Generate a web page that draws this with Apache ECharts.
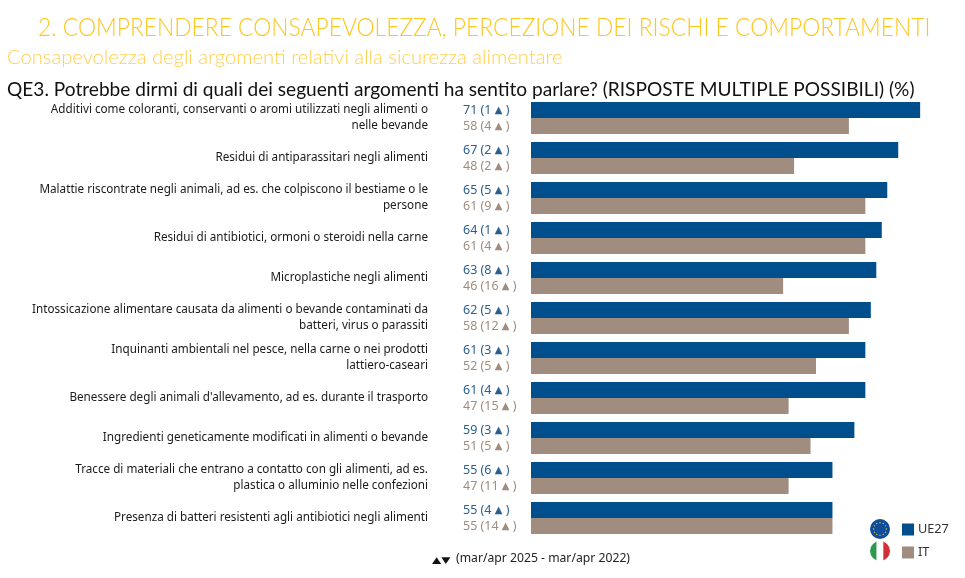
<!DOCTYPE html>
<html><head><meta charset="utf-8">
<style>html,body{margin:0;padding:0;background:#fff}#c{width:965px;height:578px}</style>
<script src="https://cdn.jsdelivr.net/npm/echarts@6/dist/echarts.min.js"></script>
</head><body><div id="c"></div>
<script>
const categories = [
 "Additivi come coloranti, conservanti o aromi utilizzati negli alimenti o\nnelle bevande",
 "Residui di antiparassitari negli alimenti",
 "Malattie riscontrate negli animali, ad es. che colpiscono il bestiame o le\npersone",
 "Residui di antibiotici, ormoni o steroidi nella carne",
 "Microplastiche negli alimenti",
 "Intossicazione alimentare causata da alimenti o bevande contaminati da\nbatteri, virus o parassiti",
 "Inquinanti ambientali nel pesce, nella carne o nei prodotti\nlattiero-caseari",
 "Benessere degli animali d'allevamento, ad es. durante il trasporto",
 "Ingredienti geneticamente modificati in alimenti o bevande",
 "Tracce di materiali che entrano a contatto con gli alimenti, ad es.\nplastica o alluminio nelle confezioni",
 "Presenza di batteri resistenti agli antibiotici negli alimenti"
];
const ue27Values = [71,67,65,64,63,62,61,61,59,55,55];
const itValues   = [58,48,61,61,46,58,52,47,51,47,55];
const ue27Delta  = [1,2,5,1,8,5,3,4,3,6,4];
const itDelta    = [4,2,9,4,16,12,5,15,5,11,14];
const BLUE="#004f8c", BROWN="#a08d80", GOLD="#ffc61e";
const body="'Noto Sans',sans-serif", thin="Lato,sans-serif";
const euFlag="data:image/svg+xml,"+encodeURIComponent('<svg xmlns="http://www.w3.org/2000/svg" width="60" height="60"><circle cx="30" cy="30" r="30" fill="#0f4c9a"/><g fill="#e8d44a">'+[0,1,2,3,4,5,6,7,8,9,10,11].map(i=>'<circle cx="'+(30+19*Math.cos(i*Math.PI/6))+'" cy="'+(30+19*Math.sin(i*Math.PI/6))+'" r="2"/>').join('')+'</g></svg>');
const itFlag="data:image/svg+xml,"+encodeURIComponent('<svg xmlns="http://www.w3.org/2000/svg" width="60" height="60"><defs><clipPath id="k"><circle cx="30" cy="30" r="30"/></clipPath></defs><g clip-path="url(#k)"><rect width="20" height="60" fill="#2e9a4e"/><rect x="20" width="20" height="60" fill="#fff"/><rect x="40" width="20" height="60" fill="#d02f38"/></g></svg>');
const lab=(vals,deltas,color)=>({show:true,position:[-68,1.5],formatter:p=>vals[p.dataIndex]+' ('+deltas[p.dataIndex]+' {a|▲} )',color:color,fontFamily:body,fontSize:12.5,rich:{a:{fontSize:10,color:color,fontFamily:"'DejaVu Sans'"}}});
const chart=echarts.init(document.getElementById('c'),null,{renderer:'canvas'});
chart.setOption({
 animation:false,
 textStyle:{fontFamily:body},
 grid:{left:531,top:98,width:433,height:440,containLabel:false},
 xAxis:{type:'value',min:0,max:79,show:false},
 yAxis:{type:'category',inverse:true,data:categories,axisLine:{show:false},axisTick:{show:false},
  axisLabel:{margin:103,color:'#1a1a1a',fontSize:11.7,lineHeight:16,align:'right',fontFamily:body,interval:0}},
 legend:{orient:'vertical',left:902,top:523,padding:0,itemWidth:12,itemHeight:12,itemGap:10,icon:'rect',
  textStyle:{fontSize:12.7,color:'#333',fontFamily:body,padding:[0,0,0,-1]},data:['UE27','IT']},
 series:[
  {name:'UE27',type:'bar',data:ue27Values,barWidth:16,barGap:0,itemStyle:{color:BLUE},label:lab(ue27Values,ue27Delta,'#2a5f8f')},
  {name:'IT',type:'bar',data:itValues,barWidth:16,barGap:0,itemStyle:{color:BROWN},label:lab(itValues,itDelta,'#a08d80')}
 ],
 graphic:[
  {type:'text',x:38,y:15,scaleX:0.913,style:{text:'2. COMPRENDERE CONSAPEVOLEZZA, PERCEZIONE DEI RISCHI E COMPORTAMENTI',fill:GOLD,font:"300 25px "+thin}},
  {type:'text',x:7,y:47,style:{text:'Consapevolezza degli argomenti relativi alla sicurezza alimentare',fill:'#ffcf4d',font:"300 20.2px "+thin}},
  {type:'text',x:7,y:80,style:{text:'QE3. Potrebbe dirmi di quali dei seguenti argomenti ha sentito parlare? (RISPOSTE MULTIPLE POSSIBILI) (%)',fill:'#111',font:"400 19.1px "+thin}},
  {type:'text',x:432,y:556,scaleY:0.75,style:{text:'▲▼',fill:'#111',font:"12px 'DejaVu Sans'"}},
  {type:'text',x:456,y:553,style:{text:'(mar/apr 2025 - mar/apr 2022)',fill:'#222',font:"12.2px "+body}},
  {type:'image',x:870,y:519,style:{image:euFlag,width:20,height:20}},
  {type:'image',x:870,y:541,style:{image:itFlag,width:20,height:20}}
 ]
});
</script></body></html>
